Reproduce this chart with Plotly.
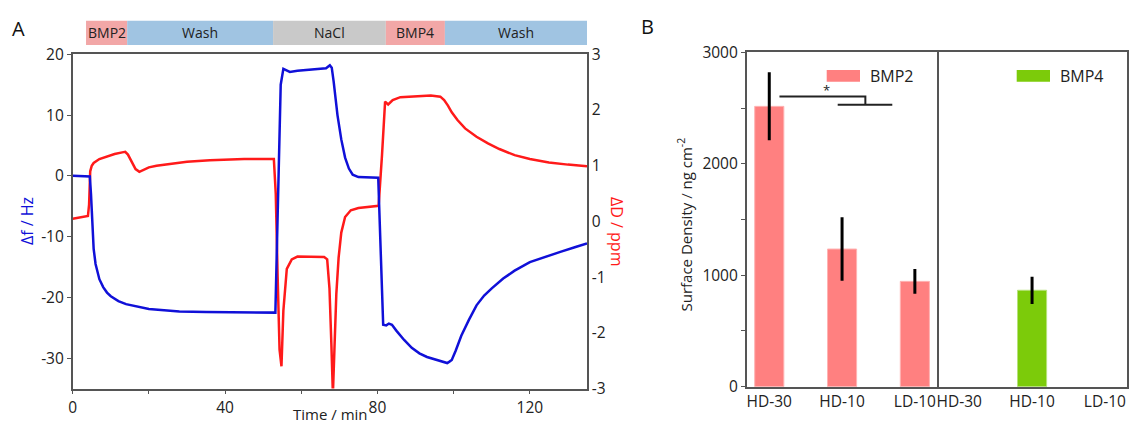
import plotly.graph_objects as go

# Panel A: QCM-D trace (time in min)
t_f = [0, 4.5, 4.8, 5.1, 5.5, 6, 7, 8, 9, 10, 12, 14, 16, 18, 20, 24, 28, 35, 45, 53.2,
       54.6, 55.3, 56, 57, 59, 62, 66.5, 67.5, 68, 68.5, 69.5, 70.5, 71.5, 72.5, 73.5, 75, 80.2,
       81.5, 82.3, 83, 83.8, 85, 87, 89, 91, 93, 95, 97, 98.3, 98.8, 99.5, 100.5, 102, 104,
       106, 108, 110, 113, 116, 120, 124, 128, 132, 135]
delta_f = [0, -0.1, -3, -8, -12, -14.5, -17, -18.3, -19.2, -19.8, -20.6, -21.1, -21.4, -21.6, -21.9,
           -22.1, -22.3, -22.4, -22.5, -22.5,
           15, 17.6, 17.4, 17.1, 17.3, 17.5, 17.7, 18.2, 17.8, 15.5, 10, 6, 3, 1.2, 0.2, -0.2, -0.3,
           -24.5, -24.6, -24.3, -24.5, -25.5, -27, -28.3, -29.2, -29.8, -30.2, -30.5, -30.8, -30.6,
           -30.3, -28.8, -26.3, -23.7, -21.3, -19.7, -18.5, -16.9, -15.6, -14.2, -13.3, -12.5, -11.7, -11.1]

t_d = [0, 4.0, 4.3, 4.6, 5.0, 5.5, 7, 9, 11, 13, 13.8, 14.5, 15.5, 16.5, 17.5, 18.5, 20, 22, 25, 30, 36, 45, 52.8,
       53.3, 53.8, 54.3, 54.8, 55.3, 56.2, 57.5, 59, 62, 66, 66.8, 67.4, 67.9, 68.3, 68.7, 69.2, 69.8, 70.5,
       71.5, 73, 75, 80.3,
       81.2, 82, 82.8, 84, 86, 90, 94, 96.5, 97.5, 98.5, 99.5, 101, 103, 106, 109, 112, 116, 120, 125, 130, 135]
delta_d = [0.05, 0.1, 0.3, 0.9, 1.0, 1.05, 1.12, 1.17, 1.21, 1.24, 1.25, 1.2, 1.07, 0.94, 0.89, 0.92, 0.97,
           1.0, 1.03, 1.07, 1.1, 1.12, 1.12,
           0.5, -1.0, -2.3, -2.6, -1.6, -0.85, -0.68, -0.63, -0.63, -0.64, -0.68, -1.2, -2.2, -3.1, -2.3,
           -1.3, -0.65, -0.2, 0.08, 0.2, 0.24, 0.28,
           1.2, 2.15, 2.1, 2.18, 2.23, 2.25, 2.26, 2.24, 2.18, 2.08, 1.96, 1.82, 1.67, 1.52, 1.40, 1.30,
           1.19, 1.12, 1.06, 1.02, 0.99]

f_ticks = [-30, -20, -10, 0, 10, 20]
d_ticks = [-3, -2, -1, 0, 1, 2, 3]

# injection steps shown in the bar above panel A
steps = ["BMP2", "Wash", "NaCl", "BMP4", "Wash"]
step_start = [3.5, 14.3, 52.6, 82.2, 97.7]
step_end = [14.3, 52.6, 82.2, 97.7, 135]
step_colors = {"BMP2": "#F2A7A7", "BMP4": "#F2A7A7", "Wash": "#A0C4E2", "NaCl": "#C9C9C9"}

# Panel B: surface density
groups = ["HD-30", "HD-10", "LD-10"]
bmp2 = [2515, 1235, 945]
bmp2_err = [305, 285, 110]
bmp4 = [None, 865, None]
bmp4_err = [0, 122, 0]

AX = "#555555"
FONT = "Open Sans"
W, H = 1131, 429


# page pixel -> paper fraction
def px(x):
    return x / W


def py(y):
    return (H - y) / H


fig = go.Figure()

fig.add_trace(go.Scatter(x=t_d, y=delta_d, mode="lines", line=dict(color="#FF1A1A", width=2.5),
                         xaxis="x", yaxis="y", showlegend=False))
fig.add_trace(go.Scatter(x=t_f, y=delta_f, mode="lines", line=dict(color="#1010D8", width=2.5),
                         xaxis="x", yaxis="y2", showlegend=False))

pos = [0, 1, 2]
fig.add_trace(go.Bar(x=pos, y=bmp2, width=0.4, marker=dict(color="#FF8080", line=dict(color="#FFB3B3", width=1)),
                     error_y=dict(type="data", array=bmp2_err, color="black", thickness=3, width=0),
                     xaxis="x3", yaxis="y3", showlegend=False))
fig.add_trace(go.Bar(x=pos, y=bmp4, width=0.4, marker=dict(color="#7CCB0A", line=dict(color="#B5E27A", width=1)),
                     error_y=dict(type="data", array=bmp4_err, color="black", thickness=3, width=0),
                     xaxis="x4", yaxis="y4", showlegend=False))

tickfont = dict(family=FONT, size=15.5, color="#222")
base = dict(showline=True, linecolor=AX, linewidth=1.5, showgrid=False, zeroline=False,
            tickcolor=AX, ticklen=4, tickwidth=1.2, tickfont=tickfont, automargin=False)

dom_ax = [px(72.7), px(587)]
dom_ay = [py(388.6), py(54.3)]
dom_by = [py(386.7), py(52.3)]

fig.update_layout(
    width=W, height=H,
    margin=dict(l=0, r=0, t=0, b=0, autoexpand=False),
    paper_bgcolor="white", plot_bgcolor="white",
    font=dict(family=FONT, color="#222"),
    showlegend=False,
    xaxis=dict(domain=dom_ax, range=[0, 135], tickvals=[0, 40, 80, 120], ticks="outside",
               minor=dict(tickvals=[20, 60, 100], ticks="outside", ticklen=4, tickcolor=AX),
               mirror=True, anchor="y", **base),
    yaxis=dict(domain=dom_ay, range=[-3, 3], tickvals=d_ticks, ticktext=[str(v) for v in d_ticks],
               side="right", anchor="x", mirror=True, ticks="", **base),
    yaxis2=dict(domain=dom_ay, range=[-35, 20], tickvals=f_ticks, ticktext=[str(v) for v in f_ticks],
                overlaying="y", side="left", anchor="x", ticks="outside", **base),
    xaxis3=dict(domain=[px(746.7), px(936.7)], range=[-0.31, 2.3], tickvals=pos, ticktext=groups,
                anchor="y3", mirror=True, ticks="", **base),
    yaxis3=dict(domain=dom_by, range=[0, 3000], tickvals=[0, 1000, 2000, 3000], ticks="outside",
                minor=dict(dtick=500, ticks="outside", ticklen=4, tickcolor=AX),
                anchor="x3", mirror=True, **base),
    xaxis4=dict(domain=[px(936.7), px(1126.7)], range=[-0.31, 2.3], tickvals=pos, ticktext=groups,
                anchor="y4", mirror=True, ticks="", **base),
    yaxis4=dict(domain=dom_by, range=[0, 3000], showticklabels=False, ticks="", side="right",
                anchor="x4", mirror=False, showline=True, linecolor=AX, linewidth=1.5,
                showgrid=False, zeroline=False, automargin=False),
)


def label(x, y, text, size, color="#222", angle=0, anchor="center"):
    fig.add_annotation(x=x, y=y, xref="paper", yref="paper", text=text, showarrow=False,
                       textangle=angle, xanchor=anchor, yanchor="middle",
                       font=dict(family=FONT, size=size, color=color))


# colored step bar on top of panel A
for name, s, e in zip(steps, step_start, step_end):
    fig.add_shape(type="rect", xref="x", yref="paper", x0=s, x1=e, y0=py(45), y1=py(20.7),
                  fillcolor=step_colors[name], line=dict(width=0), layer="below")
    fig.add_annotation(x=(s + e) / 2, y=py(33), xref="x", yref="paper", text=name, showarrow=False,
                       xanchor="center", yanchor="middle", font=dict(family=FONT, size=14, color="#222"))

# significance bracket
fig.add_shape(type="path", xref="x3", yref="y3", path="M 0.14 2604 L 1.32 2604 L 1.32 2529",
              line=dict(color="#222", width=2))
fig.add_shape(type="line", xref="x3", yref="y3", x0=0.94, x1=1.69, y0=2529, y1=2529,
              line=dict(color="#222", width=2))
fig.add_annotation(x=0.79, y=2665, xref="x3", yref="y3", text="*", showarrow=False,
                   xanchor="center", yanchor="middle", font=dict(family=FONT, size=13, color="#222"))

# legend swatches for panel B
for name, col, x0 in [("BMP2", "#FF8080", 826.7), ("BMP4", "#7CCB0A", 1016.7)]:
    fig.add_shape(type="rect", xref="paper", yref="paper", x0=px(x0), x1=px(x0 + 33.3),
                  y0=py(81.7), y1=py(70), fillcolor=col, line=dict(width=0))
    label(px(x0 + 41), py(76), name, 16, anchor="left")

# axis titles and panel letters
label(px(27), py(221), "Δf / Hz", 16, color="#1010D8", angle=-90)
label(px(617), py(231), "ΔD / ppm", 16, color="#FF1A1A", angle=90)
label(px(330), py(414), "Time / min", 15)
label(px(684.5), py(225), "Surface Density / ng cm<sup>-2</sup>", 15, angle=-90)
label(px(18.5), py(28.5), "A", 20, color="#111")
label(px(647), py(26.5), "B", 20, color="#111")

# drop the default page margin so the 1131x429 figure fills the window exactly
fig.write_html("out.html", config={"displayModeBar": False},
               post_script="document.body.style.margin='0';document.body.style.overflow='hidden';")
